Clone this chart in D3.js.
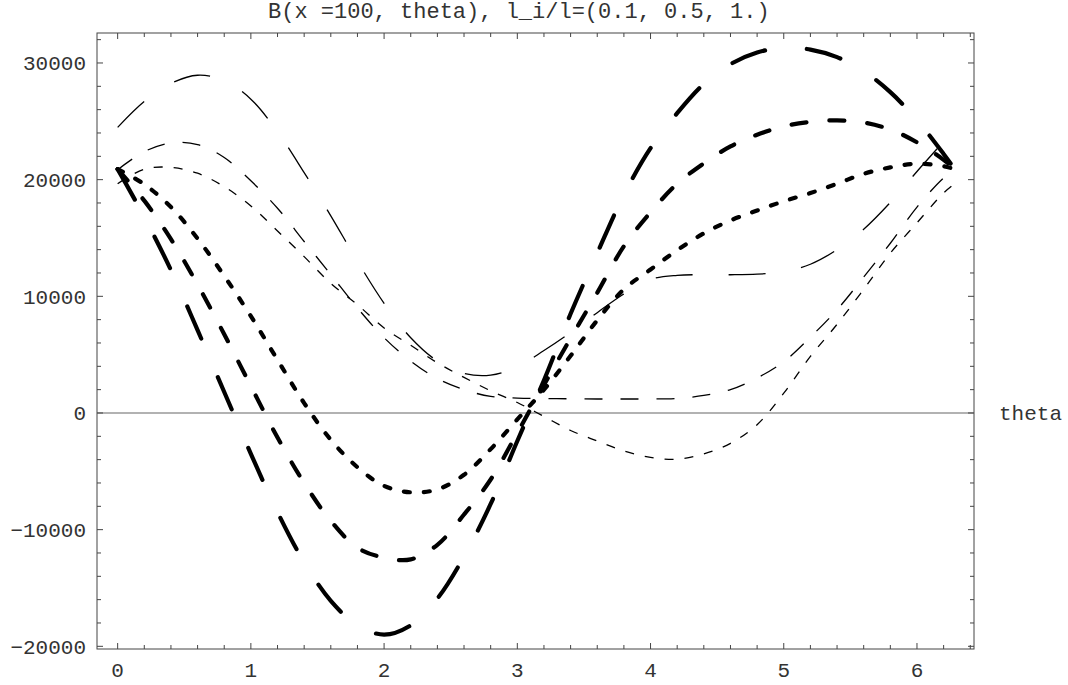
<!DOCTYPE html>
<html>
<head>
<meta charset="utf-8">
<script src="https://cdn.jsdelivr.net/npm/d3@7"></script>
<style>
  html, body { margin: 0; padding: 0; background: #fff; }
  svg { display: block; }
  text { font-family: "Liberation Mono", "DejaVu Sans Mono", monospace; fill: #333; }
</style>
</head>
<body>
<div id="chart"></div>
<script>
(function(){
  // theta grid the curves were read at
  const theta = [0, 0.2, 0.4, 0.6, 0.8, 1.0, 1.2, 1.4, 1.6, 1.8, 2.0, 2.2, 2.4, 2.6, 2.8, 3.0,
    3.2, 3.4, 3.6, 3.8, 4.0, 4.2, 4.4, 4.6, 4.8, 5.0, 5.2, 5.4, 5.6, 5.8, 6.0, 6.2, 6.283];

  // thick curves
  const thickLong = [20900, 16800, 12250, 7100, 1800, -3500, -8500, -12800, -16100, -18200, -19000,
    -18200, -15900, -12300, -7800, -2400, 2800, 8500, 13700, 18700, 22700, 25700, 28200, 29900,
    30900, 31300, 31150, 30500, 29300, 27500, 25100, 22200, 20900];
  const thickMedium = [20900, 18200, 14900, 11000, 6750, 2300, -2100, -6000, -9250, -11550, -12400,
    -12550, -11300, -8700, -5700, -1700, 2400, 6400, 10300, 14300, 17200, 19650, 21400, 22850,
    23850, 24570, 24950, 25080, 24900, 24300, 23200, 21700, 20900];
  const thickShort = [20900, 19600, 17650, 14950, 11750, 8300, 4550, 850, -2300, -4650, -6250,
    -6800, -6550, -5300, -3100, -550, 2000, 4900, 7950, 10600, 12300, 13950, 15400, 16500,
    17350, 18150, 18850, 19650, 20500, 21050, 21370, 21150, 20900];

  // thin curves
  const thinLong = [24480, 26700, 28250, 28950, 28500, 26900, 24100, 20600, 16900, 13000, 9400,
    6450, 4450, 3400, 3250, 3950, 5350, 6900, 8600, 10200, 11450, 11800, 11850, 11850,
    11900, 12100, 12750, 14000, 15750, 18050, 20700, 23300, 24480];
  const thinMedium = [20850, 22400, 23150, 23000, 21900, 19900, 17550, 14700, 11860, 9000, 6450,
    4450, 2950, 2000, 1420, 1280, 1230, 1220, 1200, 1200, 1200, 1250, 1500, 2000,
    3000, 4400, 6500, 8850, 11650, 14550, 17650, 20150, 20850];
  const thinShort = [19650, 20900, 21050, 20550, 19400, 17750, 15600, 13400, 11100, 9280, 7290,
    5800, 4300, 3050, 1900, 900, -300, -1500, -2400, -3250, -3800, -3970, -3500, -2600,
    -1000, 1700, 4850, 7600, 10600, 13700, 16300, 18860, 19650];

  const xTicks = [0, 1, 2, 3, 4, 5, 6];
  const yTicks = [-20000, -10000, 0, 10000, 20000, 30000];
  const titleText = "B(x =100, theta), l_i/l=(0.1, 0.5, 1.)";
  const axisLabel = "theta";

  const width = 1068, height = 685;
  const frame = { left: 97, right: 974, top: 33, bottom: 649 };

  const svg = d3.select("#chart").append("svg")
    .attr("width", width)
    .attr("height", height);

  const x = d3.scaleLinear().domain([-0.155, 6.428]).range([frame.left, frame.right]);
  const y = d3.scaleLinear().domain([-20230, 32570]).range([frame.bottom, frame.top]);

  // frame
  svg.append("rect")
    .attr("x", frame.left).attr("y", frame.top)
    .attr("width", frame.right - frame.left).attr("height", frame.bottom - frame.top)
    .attr("fill", "none").attr("stroke", "#444").attr("stroke-width", 1);

  // zero axis
  svg.append("line")
    .attr("x1", frame.left).attr("x2", frame.right)
    .attr("y1", y(0)).attr("y2", y(0))
    .attr("stroke", "#666").attr("stroke-width", 1.2);

  svg.append("text")
    .attr("x", 999).attr("y", y(0))
    .attr("dy", "0.32em")
    .attr("font-size", 21)
    .text(axisLabel);

  // ticks inward on all sides
  const xMinor = d3.range(0, 6.43, 0.2);
  const yMinor = d3.range(-20000, 32001, 2000);
  const isMajorX = v => Math.abs(v - Math.round(v)) < 1e-6;
  const isMajorY = v => v % 10000 === 0;

  const tickG = svg.append("g").attr("stroke", "#444").attr("stroke-width", 1);
  xMinor.forEach(v => {
    const len = isMajorX(v) ? 6 : 4;
    tickG.append("line").attr("x1", x(v)).attr("x2", x(v))
      .attr("y1", frame.bottom).attr("y2", frame.bottom - len);
    tickG.append("line").attr("x1", x(v)).attr("x2", x(v))
      .attr("y1", frame.top).attr("y2", frame.top + len);
  });
  yMinor.forEach(v => {
    const len = isMajorY(v) ? 6 : 4;
    tickG.append("line").attr("x1", frame.left).attr("x2", frame.left + len)
      .attr("y1", y(v)).attr("y2", y(v));
    tickG.append("line").attr("x1", frame.right).attr("x2", frame.right - len)
      .attr("y1", y(v)).attr("y2", y(v));
  });

  // tick labels
  svg.append("g").selectAll("text")
    .data(xTicks)
    .join("text")
    .attr("x", d => x(d))
    .attr("y", 677)
    .attr("text-anchor", "middle")
    .attr("font-size", 21)
    .text(d => d);

  svg.append("g").selectAll("text")
    .data(yTicks)
    .join("text")
    .attr("x", 86)
    .attr("y", d => y(d))
    .attr("dy", "0.35em")
    .attr("text-anchor", "end")
    .attr("font-size", 21)
    .text(d => d < 0 ? "\u2212" + Math.abs(d) : d);

  // title
  svg.append("text")
    .attr("x", 268).attr("y", 18)
    .attr("font-size", 22)
    .text(titleText);

  // curves
  const series = [
    { values: thinShort, w: 1.3, dash: "9,11" },
    { values: thinMedium, w: 1.3, dash: "18,18" },
    { values: thinLong, w: 1.3, dash: "37,36" },
    { values: thickShort, w: 4.2, dash: "6,14", cap: "round" },
    { values: thickMedium, w: 4.2, dash: "15,23", cap: "round" },
    { values: thickLong, w: 4.2, dash: "35,42", cap: "round" }
  ];

  const line = d3.line()
    .x(d => x(d[0]))
    .y(d => y(d[1]))
    .curve(d3.curveCatmullRom.alpha(0.5));

  svg.append("g").selectAll("path")
    .data(series)
    .join("path")
    .attr("d", s => line(theta.map((t, i) => [t, s.values[i]])))
    .attr("fill", "none")
    .attr("stroke", "#000")
    .attr("stroke-width", s => s.w)
    .attr("stroke-linecap", s => s.cap || "butt")
    .attr("stroke-dasharray", s => s.dash);
})();
</script>
</body>
</html>
